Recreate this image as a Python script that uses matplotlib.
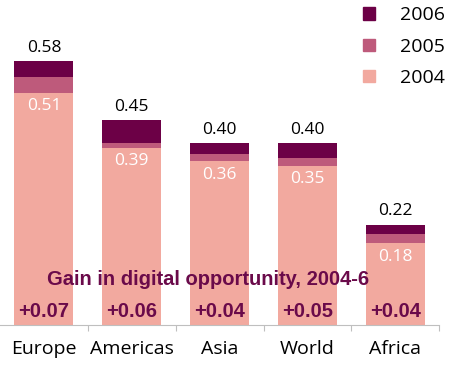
import matplotlib
matplotlib.use("Agg")
import matplotlib.pyplot as plt
import numpy as np

regions = ["Europe", "Americas", "Asia", "World", "Africa"]
idx_2004 = [0.51, 0.39, 0.36, 0.35, 0.18]
idx_2005 = [0.545, 0.40, 0.375, 0.367, 0.20]
idx_2006 = [0.58, 0.45, 0.40, 0.40, 0.22]
gains = ["+0.07", "+0.06", "+0.04", "+0.05", "+0.04"]
years = ["2006", "2005", "2004"]

c04, c05, c06 = "#F2A99F", "#BE5A7B", "#6C0046"
textc = "#6A0A4A"

fig = plt.figure(figsize=(4.52, 3.69), dpi=100)
ax = fig.add_axes([0.0, 0.1192, 0.972, 0.740])

x = np.arange(len(regions))
w = 0.67
a04 = np.array(idx_2004)
a05 = np.array(idx_2005)
a06 = np.array(idx_2006)
ax.bar(x, a04, w, color=c04, zorder=2)
ax.bar(x, a05 - a04, w, bottom=a04, color=c05, zorder=2)
ax.bar(x, a06 - a05, w, bottom=a05, color=c06, zorder=2)

font = "Open Sans"
for i in range(len(regions)):
    ax.text(x[i], a06[i] + 0.012, f"{a06[i]:.2f}", ha="center", va="bottom",
            fontsize=12.5, family=font, color="black")
    ax.text(x[i], a04[i] - 0.012, f"{a04[i]:.2f}", ha="center", va="top",
            fontsize=12.5, family=font, color="white")
    ax.text(x[i], 0.03, gains[i], ha="center", va="center", fontsize=14.5,
            family="Liberation Sans", weight="bold", color=textc, zorder=3)

ax.text(1.87, 0.099, "Gain in digital opportunity, 2004-6", ha="center", va="center",
        fontsize=14.5, family="Liberation Sans", weight="bold", color=textc, zorder=3)

ax.set_xlim(-0.5, 4.5)
ax.set_ylim(0, 0.6)
ax.set_xticks(x)
ax.set_xticklabels(regions, fontsize=14, family=font)
ax.tick_params(axis="x", length=0, pad=11)
ax.set_xticks(np.arange(0.5, 5.0, 1.0), minor=True)
ax.tick_params(axis="x", which="minor", length=4, color="#BFBFBF", width=0.8)
ax.set_yticks([])
for s in ["top", "right", "left"]:
    ax.spines[s].set_visible(False)
ax.spines["bottom"].set_color("#BFBFBF")
ax.spines["bottom"].set_linewidth(0.8)

# legend
from matplotlib.patches import Patch
handles = [Patch(color=c06), Patch(color=c05), Patch(color=c04)]
leg = fig.legend(handles, years, loc="upper left", bbox_to_anchor=(0.765, 1.03),
                 frameon=False, prop={"family": font, "size": 14},
                 handlelength=0.6, handleheight=0.6, labelspacing=0.68,
                 handletextpad=1.3)

fig.savefig("out.png", dpi=100)
